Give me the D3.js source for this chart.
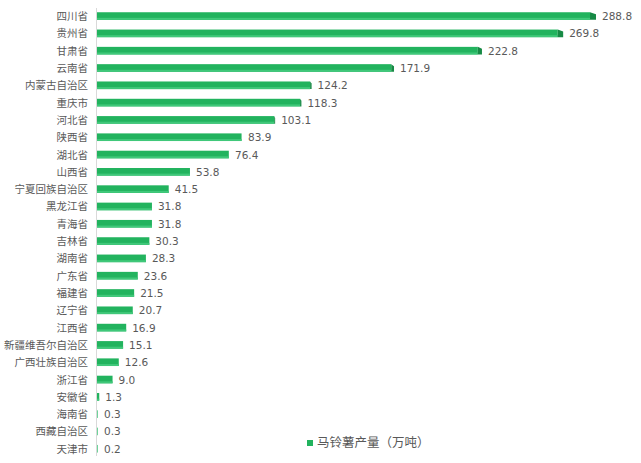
<!DOCTYPE html>
<html><head><meta charset="utf-8">
<script src="https://cdn.jsdelivr.net/npm/d3@7/dist/d3.min.js"></script>
<style>body{margin:0;background:#fff;}svg{display:block;font-family:"Noto Sans CJK SC","Microsoft YaHei",sans-serif;}</style>
</head><body><div id="chart"></div>
<script>
const categories = ["四川省","贵州省","甘肃省","云南省","内蒙古自治区","重庆市","河北省","陕西省","湖北省","山西省","宁夏回族自治区","黑龙江省","青海省","吉林省","湖南省","广东省","福建省","辽宁省","江西省","新疆维吾尔自治区","广西壮族自治区","浙江省","安徽省","海南省","西藏自治区","天津市"];
const values = [288.8,269.8,222.8,171.9,124.2,118.3,103.1,83.9,76.4,53.8,41.5,31.8,31.8,30.3,28.3,23.6,21.5,20.7,16.9,15.1,12.6,9.0,1.3,0.3,0.3,0.2];
const seriesName = "马铃薯产量（万吨）";

const W = 641, H = 463;
const svg = d3.select("#chart").append("svg").attr("width", W).attr("height", H);
const x0 = 97;
const x = d3.scaleLinear().domain([0, 288.8]).range([x0, 596]);
const y = d3.scaleBand().domain(categories).range([7.4, 457.4]).paddingInner(0.56).paddingOuter(0.28);

const g = svg.append("g");
const bh = y.bandwidth();

categories.forEach((c, i) => {
  const v = values[i];
  const y0 = y(c);
  const w = Math.max(x(v) - x0, 1);
  const capW = Math.max(0, (w - 120) / 380 * 6);
  const face = w - capW;
  g.append("rect").attr("x", x0).attr("y", y0).attr("width", face).attr("height", bh).attr("fill", w < 2 ? "#6fd39a" : "#22b35e");
  if (w >= 2) g.append("rect").attr("x", x0).attr("y", y0 + bh - 2).attr("width", face).attr("height", 2).attr("fill", "#40c87a");
  if (capW > 0.5) {
    g.append("path").attr("d", `M${x0 + face},${y0}L${x0 + w},${y0 + 2}L${x0 + w},${y0 + bh}L${x0 + face},${y0 + bh}Z`).attr("fill", "#178a45");
  }
  g.append("text").attr("x", x0 + w + 6).attr("y", y0 + bh / 2 + 4)
    .attr("fill", "#595959").attr("font-family", "Verdana, 'DejaVu Sans', sans-serif").attr("font-size", 10.5)
    .text(v.toFixed(1));
  g.append("text").attr("x", 88).attr("y", y0 + bh / 2 + 4).attr("text-anchor", "end")
    .attr("font-size", 10.5).attr("fill", "#595959").text(c);
});

svg.append("line").attr("x1", 96.5).attr("x2", 96.5).attr("y1", 8).attr("y2", 456).attr("stroke", "#d9d9d9").attr("stroke-width", 1);

svg.append("rect").attr("x", 307).attr("y", 440).attr("width", 6).attr("height", 6).attr("fill", "#22b35e");
svg.append("text").attr("x", 317).attr("y", 447).attr("font-size", 12.5).attr("fill", "#595959").text(seriesName);
</script></body></html>
